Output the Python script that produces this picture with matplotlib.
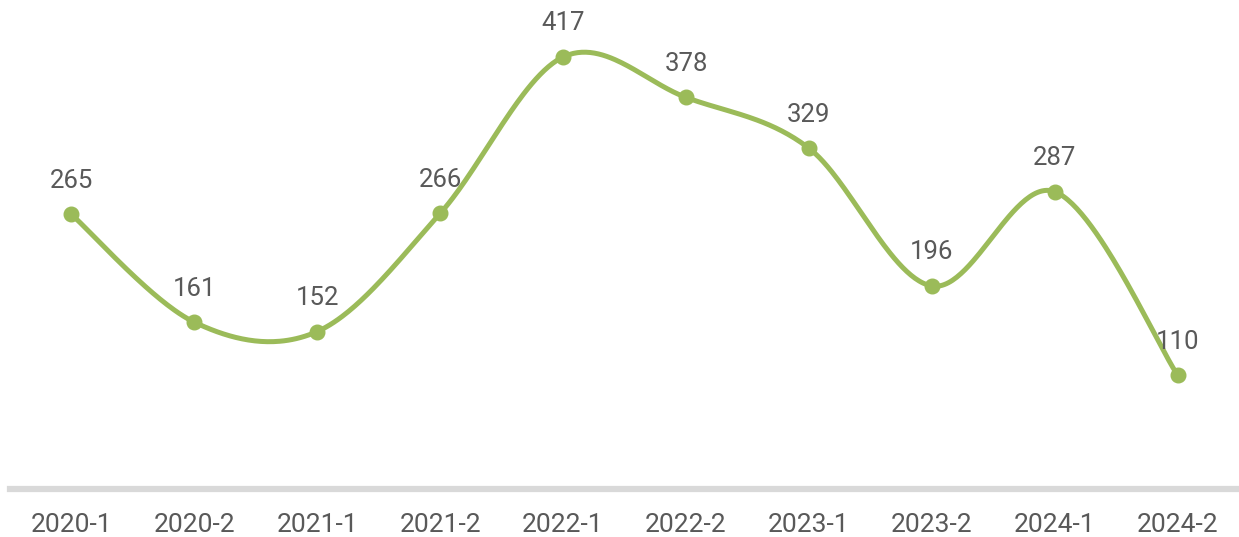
import numpy as np
import matplotlib.pyplot as plt

# datos
periodos = ['2020-1', '2020-2', '2021-1', '2021-2', '2022-1',
            '2022-2', '2023-1', '2023-2', '2024-1', '2024-2']
valores = [265, 161, 152, 266, 417, 378, 329, 196, 287, 110]

verde = '#9bbb59'
gris_texto = '#595959'

plt.rcParams['font.family'] = ['Roboto', 'DejaVu Sans']

fig = plt.figure(figsize=(12.39, 5.37), dpi=100)
ax = fig.add_axes([10 / 1239, 48 / 537, 1229 / 1239, 489 / 537])

x = np.arange(len(valores), dtype=float)
y = np.array(valores, dtype=float)

# curva suavizada tipo Excel (Bezier con puntos de control 1/6)
px = np.concatenate([[x[0]], x, [x[-1]]])
py = np.concatenate([[y[0]], y, [y[-1]]])
t = np.linspace(0, 1, 60)[:, None]
cx, cy = [], []
for i in range(1, len(px) - 2):
    p0 = np.array([px[i], py[i]])
    p3 = np.array([px[i + 1], py[i + 1]])
    c1 = p0 + (np.array([px[i + 1], py[i + 1]]) - np.array([px[i - 1], py[i - 1]])) / 6
    c2 = p3 - (np.array([px[i + 2], py[i + 2]]) - np.array([px[i], py[i]])) / 6
    b = ((1 - t) ** 3) * p0 + 3 * ((1 - t) ** 2) * t * c1 + 3 * (1 - t) * t ** 2 * c2 + t ** 3 * p3
    cx.extend(b[:, 0])
    cy.extend(b[:, 1])

ax.plot(cx, cy, color=verde, lw=3.6, solid_capstyle='round', zorder=2)
ax.plot(x, y, 'o', color=verde, ms=10.5, zorder=3)

for xi, yi in zip(x, y):
    ax.annotate(f'{int(yi)}', (xi, yi), xytext=(0, 15.5), textcoords='offset points',
                ha='center', va='bottom', fontsize=18.5, color=gris_texto)

ax.set_xlim(-0.5, len(valores) - 0.5)
ax.set_ylim(0, 472)
ax.set_xticks(x)
ax.set_xticklabels(periodos, fontsize=19, color=gris_texto)
ax.tick_params(axis='x', length=0, pad=17)
ax.set_yticks([])
for s in ['top', 'right', 'left']:
    ax.spines[s].set_visible(False)
ax.spines['bottom'].set_color('#d9d9d9')
ax.spines['bottom'].set_linewidth(4.5)

fig.savefig('out.png', dpi=100)
